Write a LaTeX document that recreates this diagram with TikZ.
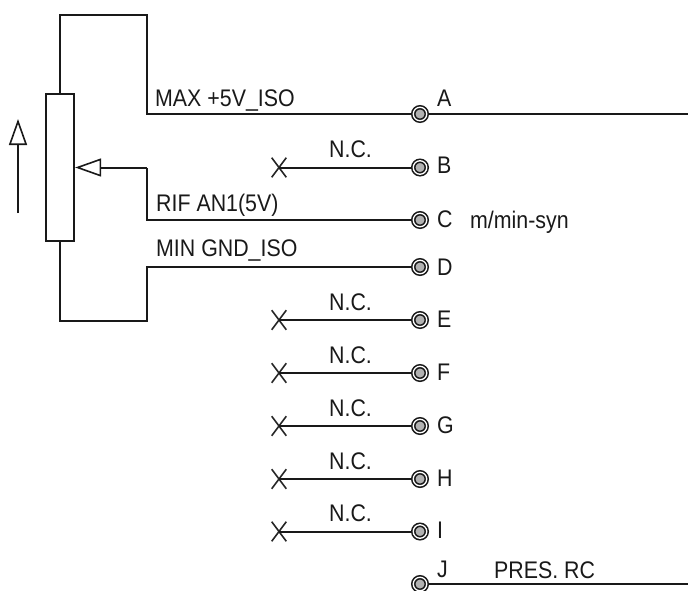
\documentclass[tikz,border=0pt]{standalone}
\usepackage{fontspec}
\setmainfont[FakeStretch=0.89]{Liberation Sans}
\usetikzlibrary{arrows.meta,shapes.misc}
\tikzset{
  wire/.style={line width=2pt,line join=miter,black!90},
  ring/.style={circle,draw=black!90,line width=1.6pt,double=white,double distance=1.3pt,fill=black!30,minimum size=13.5pt,inner sep=0pt},
  nc/.style={cross out,draw=black!85,line width=1.6pt,minimum width=13pt,minimum height=18pt,inner sep=0pt},
  lbl/.style={anchor=base west,inner sep=0pt,font=\fontsize{24}{27}\selectfont,text=black!90},
  tip/.style={-{Triangle[open,length=26pt,width=18pt,line width=1.6pt]}}
}
\begin{document}
\begin{tikzpicture}[x=1pt,y=-1pt]
\useasboundingbox (0,0) rectangle (688,590);
\node[draw=black!90,line width=1.8pt,minimum width=28.5pt,minimum height=147pt,inner sep=0pt] (pot) at (60,167.5) {};
\foreach \n/\yy in {A/114,B/167.5,C/220,D/267,E/320,F/373,G/426,H/479,I/531.5,J/584}{
  \node[ring] (\n) at (420,\yy) {};
}
\foreach \n/\yy in {B/167.5,E/320,F/373,G/426,H/479,I/531.5}{
  \node[nc] (x\n) at (279,\yy) {};
  \draw[wire] (x\n.center) -- (\n);
  \node[lbl] (nc\n) at (329,\yy-9.7) {N.C.};
}
\node[lbl] (lA) at (437,106) {A};
\node[lbl] (lB) at (437,173.5) {B};
\node[lbl] (lC) at (437,227.5) {C};
\node[lbl] (lD) at (437,275) {D};
\node[lbl] (lE) at (437,327) {E};
\node[lbl] (lF) at (437,380) {F};
\node[lbl] (lG) at (437,433) {G};
\node[lbl] (lH) at (437,486) {H};
\node[lbl] (lI) at (437,538.5) {I};
\node[lbl] (lJ) at (437,577) {J};
\node[lbl] (unit) at (470,228) {m/min-syn};
\node[lbl] (pres) at (494,578) {PRES. RC};
\node[lbl] (lmax) at (155,106.5) {MAX +5V\_ISO};
\node[lbl] (lrif) at (156,211) {RIF AN1(5V)};
\node[lbl] (lmin) at (156,256.5) {MIN GND\_ISO};
\coordinate (t1) at (60,15);
\coordinate (t2) at (146.5,15);
\coordinate (t3) at (146.5,114);
\coordinate (w0) at (146.5,167.5);
\coordinate (w1) at (146.5,220);
\coordinate (b1) at (60,320.5);
\coordinate (b2) at (146.5,320.5);
\coordinate (b3) at (146.5,267);
\coordinate (eA) at (688,114);
\coordinate (eJ) at (688,584);
\coordinate (a0) at (18,213);
\coordinate (a1) at (18,119);
\draw[wire] (pot.north) -- (t1) -- (t2) -- (t3) -- (A);
\draw[wire] (A) -- (eA);
\draw[wire] (pot.south) -- (b1) -- (b2) -- (b3) -- (D);
\draw[wire] (C) -- (w1) -- (w0);
\draw[wire,tip,shorten >=2.5pt] (w0) -- ([xshift=-2.5pt]pot.east);
\draw[wire] (J) -- (eJ);
\draw[wire,tip] (a0) -- (a1);
\end{tikzpicture}
\end{document}
